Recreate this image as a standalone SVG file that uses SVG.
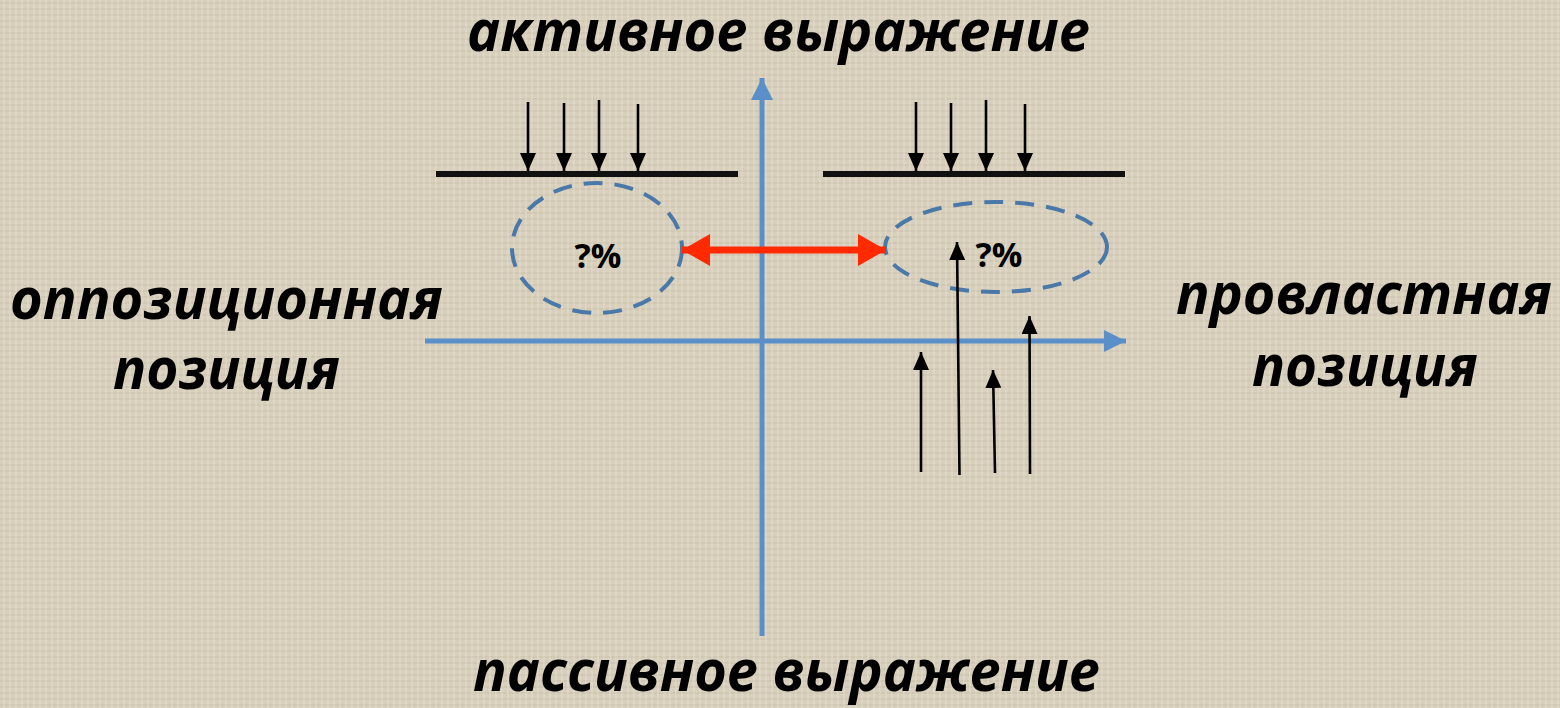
<svg xmlns="http://www.w3.org/2000/svg" width="1560" height="708" viewBox="0 0 1560 708">
  <style>
    .lbl { font-family: "Open Sans", "Noto Sans", "DejaVu Sans", sans-serif; font-weight: bold; font-style: italic; font-size: 58px; fill: #000; }
    .pct { font-family: "Open Sans", "Noto Sans", sans-serif; font-weight: bold; font-size: 34px; fill: #000; }
    .axis { stroke: #5b8fc9; stroke-width: 5; fill: none; }
    .bar { stroke: #111; stroke-width: 6; }
    .thin { stroke: #000; stroke-width: 2.6; fill: none; }
    .oval { stroke: #4a78a8; stroke-width: 4; fill: none; stroke-dasharray: 19 12; }
    .red { stroke: #ff2a00; stroke-width: 7; fill: none; }
  </style>
  <defs>
    <pattern id="linen" width="12" height="12" patternUnits="userSpaceOnUse">
      <rect width="12" height="12" fill="#d8cfbc"/>
      <path d="M0 3H12M0 9H12" stroke="#c3b9a3" stroke-width="1" opacity="0.7"/>
      <path d="M4 0V12M10 0V12" stroke="#e8e1d1" stroke-width="1" opacity="0.7"/>
    </pattern>
    <marker id="blueHead" markerUnits="userSpaceOnUse" markerWidth="24" markerHeight="22" refX="22" refY="11" orient="auto">
      <path d="M0 0L22 11L0 22Z" fill="#5b8fc9"/>
    </marker>
    <marker id="blackHead" markerUnits="userSpaceOnUse" markerWidth="18" markerHeight="16" refX="18" refY="8" orient="auto">
      <path d="M0 0L18 8L0 16Z" fill="#000"/>
    </marker>
    <marker id="redHead" markerUnits="userSpaceOnUse" markerWidth="30" markerHeight="32" refX="28" refY="16" orient="auto">
      <path d="M0 0L28 16L0 32Z" fill="#ff2a00"/>
    </marker>
    <marker id="redTail" markerUnits="userSpaceOnUse" markerWidth="30" markerHeight="32" refX="0" refY="16" orient="auto">
      <path d="M28 0L0 16L28 32Z" fill="#ff2a00"/>
    </marker>
  </defs>

  <rect width="1560" height="708" fill="url(#linen)"/>

  <g id="axes">
    <line class="axis" x1="762" y1="636" x2="762" y2="78" marker-end="url(#blueHead)"/>
    <line class="axis" x1="425" y1="341" x2="1126" y2="341" marker-end="url(#blueHead)"/>
  </g>

  <g id="label-top"><text class="lbl" x="467" y="51" textLength="623" lengthAdjust="spacingAndGlyphs">активное выражение</text></g>
  <g id="label-bottom"><text class="lbl" x="473" y="691" textLength="627" lengthAdjust="spacingAndGlyphs">пассивное выражение</text></g>
  <g id="label-left">
    <text class="lbl" x="10" y="319" textLength="433" lengthAdjust="spacingAndGlyphs">оппозиционная</text>
    <text class="lbl" x="113" y="389" textLength="227" lengthAdjust="spacingAndGlyphs">позиция</text>
  </g>
  <g id="label-right">
    <text class="lbl" x="1176" y="314" textLength="376" lengthAdjust="spacingAndGlyphs">провластная</text>
    <text class="lbl" x="1252" y="386" textLength="226" lengthAdjust="spacingAndGlyphs">позиция</text>
  </g>

  <g id="left-barrier">
    <line class="bar" x1="436" y1="174" x2="738" y2="174"/>
  </g>
  <g id="right-barrier">
    <line class="bar" x1="823" y1="174" x2="1125" y2="174"/>
  </g>

  <g id="left-oval">
    <ellipse class="oval" cx="597" cy="248" rx="85" ry="65"/>
    <text class="pct" x="598" y="268" text-anchor="middle">?%</text>
  </g>
  <g id="right-oval">
    <ellipse class="oval" cx="996" cy="247" rx="111" ry="45"/>
    <text class="pct" x="999" y="267" text-anchor="middle">?%</text>
  </g>

  <g id="connectors">
    <line class="thin" x1="528" y1="102" x2="528" y2="171" marker-end="url(#blackHead)"/>
    <line class="thin" x1="564" y1="103" x2="564" y2="171" marker-end="url(#blackHead)"/>
    <line class="thin" x1="599" y1="100" x2="599" y2="171" marker-end="url(#blackHead)"/>
    <line class="thin" x1="638" y1="104" x2="638" y2="171" marker-end="url(#blackHead)"/>

    <line class="thin" x1="916" y1="102" x2="916" y2="171" marker-end="url(#blackHead)"/>
    <line class="thin" x1="951" y1="103" x2="951" y2="171" marker-end="url(#blackHead)"/>
    <line class="thin" x1="986" y1="100" x2="986" y2="171" marker-end="url(#blackHead)"/>
    <line class="thin" x1="1025" y1="104" x2="1025" y2="171" marker-end="url(#blackHead)"/>

    <line class="thin" x1="921" y1="472" x2="921" y2="352" marker-end="url(#blackHead)"/>
    <line class="thin" x1="959.5" y1="475" x2="957" y2="242" marker-end="url(#blackHead)"/>
    <line class="thin" x1="995" y1="473" x2="993" y2="370" marker-end="url(#blackHead)"/>
    <line class="thin" x1="1030" y1="474" x2="1029.5" y2="316" marker-end="url(#blackHead)"/>

    <line class="red" x1="682" y1="250" x2="886" y2="250" marker-start="url(#redTail)" marker-end="url(#redHead)"/>
  </g>
</svg>
